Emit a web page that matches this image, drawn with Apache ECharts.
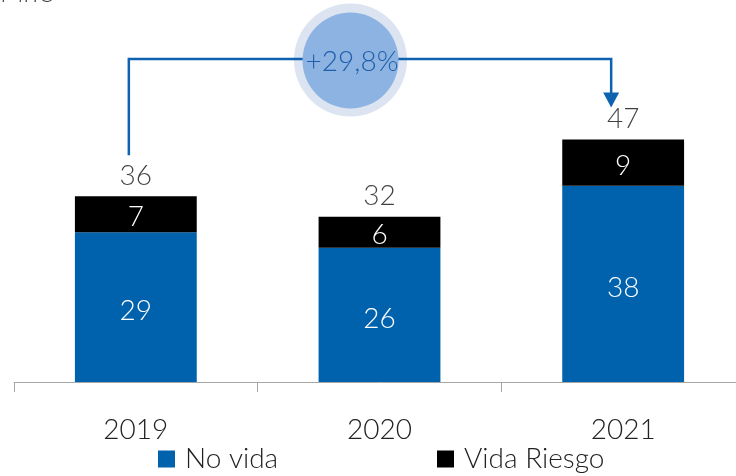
<!DOCTYPE html>
<html>
<head>
<meta charset="utf-8">
<script src="https://cdn.jsdelivr.net/npm/echarts@6/dist/echarts.min.js"></script>
<style>html,body{margin:0;padding:0;background:#fff;overflow:hidden;width:736px;height:476px}#c{width:745px;height:476px}</style>
</head>
<body>
<div id="c"></div>
<script>
var categories = ['2019', '2020', '2021'];
var noVida = [29, 26, 38];
var vidaRiesgo = [7, 6, 9];
var totals = [36, 32, 47];
var growthLabel = '+29,8%';
var unitLabel = 'Mn€';

var FONT = 'Lato';
var BLUE = '#0061AD';
var chart = echarts.init(document.getElementById('c'));
var option = {
  animation: false,
  grid: { left: 14, right: 0, top: 0, bottom: 94 },
  legend: [
    { data: ['No vida'], left: 153, top: 440, itemWidth: 17, itemHeight: 17, icon: 'rect',
      textStyle: { fontFamily: FONT, fontWeight: 300, fontSize: 28, color: '#222', padding: [0,0,0,5] } },
    { data: ['Vida Riesgo'], left: 432, top: 440, itemWidth: 17, itemHeight: 17, icon: 'rect',
      textStyle: { fontFamily: FONT, fontWeight: 300, fontSize: 28, color: '#222', padding: [0,0,0,5] } }
  ],
  xAxis: {
    type: 'category', data: categories, boundaryGap: true,
    axisLine: { lineStyle: { color: '#A6A6A6', width: 1 } },
    axisTick: { show: true, length: 10, lineStyle: { color: '#A6A6A6' } },
    axisLabel: { fontFamily: FONT, fontWeight: 300, fontSize: 28, color: '#222', margin: 34 }
  },
  yAxis: { type: 'value', min: 0, max: 74, show: false, splitLine: { show: false } },
  series: [
    { name: 'No vida', type: 'bar', stack: 't', data: noVida, barWidth: '50%',
      itemStyle: { color: BLUE },
      label: { show: true, position: 'inside', offset: [0, 4], color: '#fff', fontFamily: FONT, fontWeight: 300, fontSize: 28 } },
    { name: 'Vida Riesgo', type: 'bar', stack: 't', data: vidaRiesgo, barWidth: '50%',
      itemStyle: { color: '#000' },
      label: { show: true, position: 'inside', offset: [0, 3], color: '#fff', fontFamily: FONT, fontWeight: 300, fontSize: 28 } },
    { name: 'Total', type: 'scatter', data: totals, symbolSize: 1,
      itemStyle: { color: 'rgba(0,0,0,0)' }, silent: true,
      label: { show: true, position: 'top', distance: 6, color: '#111', fontFamily: FONT, fontWeight: 300, fontSize: 28 } }
  ]
};
chart.setOption(option);

var p19 = chart.convertToPixel({ gridIndex: 0 }, [categories[0], totals[0]]);
var p21 = chart.convertToPixel({ gridIndex: 0 }, [categories[2], totals[2]]);
var x0 = p19[0] - 7, y0 = p19[1] - 41, yTop = 59;
var x1 = p21[0] - 12, yTip = p21[1] - 32;
var LINE = '#0E62B0';
chart.setOption({
  graphic: [
    { type: 'text', x: 0, y: 7, style: { text: unitLabel, font: '300 26px ' + FONT, fill: '#404040', verticalAlign: 'bottom' } },
    { type: 'circle', shape: { cx: 350.5, cy: 60, r: 56.5 }, style: { fill: '#DCE4F1' }, z: 10 },
    { type: 'polyline', shape: { points: [[x0, y0], [x0, yTop], [x1, yTop], [x1, yTip - 14]] },
      style: { stroke: LINE, lineWidth: 2.5, fill: null }, z: 11 },
    { type: 'polygon', shape: { points: [[x1 - 8, yTip - 15], [x1 + 8, yTip - 15], [x1, yTip]] },
      style: { fill: LINE }, z: 11 },
    { type: 'circle', shape: { cx: 350.5, cy: 60.5, r: 48 }, style: { fill: '#8DB3E2' }, z: 12 },
    { type: 'text', x: 352, y: 62, style: { text: growthLabel, font: '300 28px ' + FONT, fill: '#1F5FAA', align: 'center', verticalAlign: 'middle' }, z: 13 }
  ]
});
</script>
</body>
</html>
